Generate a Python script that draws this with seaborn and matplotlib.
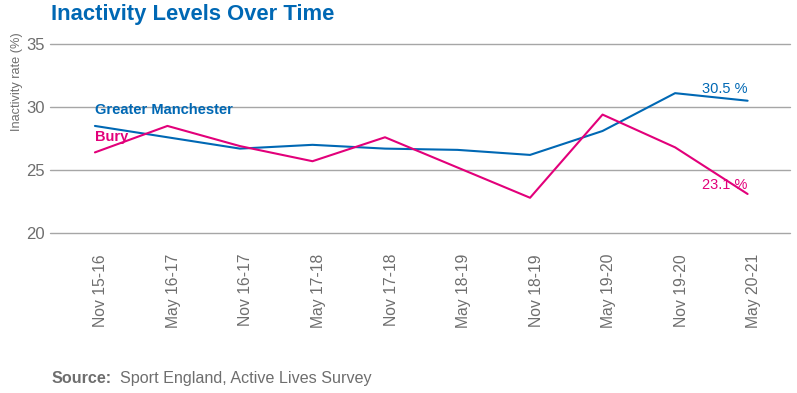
import pandas as pd
import seaborn as sns
import matplotlib.pyplot as plt
from matplotlib.transforms import ScaledTranslation

periods = ['Nov 15-16', 'May 16-17', 'Nov 16-17', 'May 17-18', 'Nov 17-18',
           'May 18-19', 'Nov 18-19', 'May 19-20', 'Nov 19-20', 'May 20-21']
gm_rate = [28.5, 27.6, 26.7, 27.0, 26.7, 26.6, 26.2, 28.1, 31.1, 30.5]
bury_rate = [26.4, 28.5, 26.9, 25.7, 27.6, 25.2, 22.8, 29.4, 26.8, 23.1]

blue = '#0068B4'
pink = '#E2007A'
grey = '#6E6E6E'

df = pd.DataFrame({'period': periods * 2,
                   'rate': gm_rate + bury_rate,
                   'area': ['Greater Manchester'] * 10 + ['Bury'] * 10})
df['pos'] = list(range(10)) * 2

sns.set_style('white')
plt.rcParams['font.family'] = ['Liberation Sans', 'DejaVu Sans']

fig = plt.figure(figsize=(7.97, 3.93), dpi=100)
ax = fig.add_axes([0.0627, 0.407, 0.929, 0.481])

sns.lineplot(data=df, x='pos', y='rate', hue='area',
             palette={'Greater Manchester': blue, 'Bury': pink},
             linewidth=1.5, legend=False, ax=ax)

ax.set_ylim(20, 35)
ax.set_xlim(-0.62, 9.59)
ax.set_yticks([20, 25, 30, 35])
ax.set_xticks(range(10))
ax.set_xticklabels(periods, rotation=90)
ax.grid(axis='y', color='#A6A6A6', linewidth=1)
for g in ax.get_ygridlines():
    g.set_clip_on(False)
ax.set_axisbelow(True)
for s in ax.spines.values():
    s.set_visible(False)
ax.tick_params(axis='both', length=0, colors=grey)
ax.tick_params(axis='y', labelsize=12, pad=4)
ax.tick_params(axis='x', labelsize=11.3, pad=15)
shift = ScaledTranslation(6 / 100, 0, fig.dpi_scale_trans)
for lab in ax.get_xticklabels():
    lab.set_transform(lab.get_transform() + shift)
ax.set_xlabel('')
ax.set_ylabel('Inactivity rate (%)', color=grey, fontsize=9.2)
ax.yaxis.set_label_coords(-0.037, 0.80)

# series labels
ax.text(0, 29.8, 'Greater Manchester', color=blue, fontsize=10.5,
        fontweight='bold', va='center')
ax.text(0, 27.6, 'Bury', color=pink, fontsize=10.5,
        fontweight='bold', va='center')
ax.text(9, gm_rate[-1] + 0.4, f'{gm_rate[-1]} %', color=blue, fontsize=10.5,
        ha='right', va='bottom')
ax.text(9, bury_rate[-1] + 0.75, f'{bury_rate[-1]} %', color=pink, fontsize=10.5,
        ha='right', va='center')

fig.text(0.064, 0.962, 'Inactivity Levels Over Time', color=blue,
         fontsize=15.8, fontweight='bold', va='center')
fig.text(0.065, 0.038, 'Source:', color=grey, fontsize=11.6,
         fontweight='bold', va='center')
fig.text(0.1506, 0.038, 'Sport England, Active Lives Survey', color=grey,
         fontsize=11.6, va='center')

fig.savefig('out.png', dpi=100)
